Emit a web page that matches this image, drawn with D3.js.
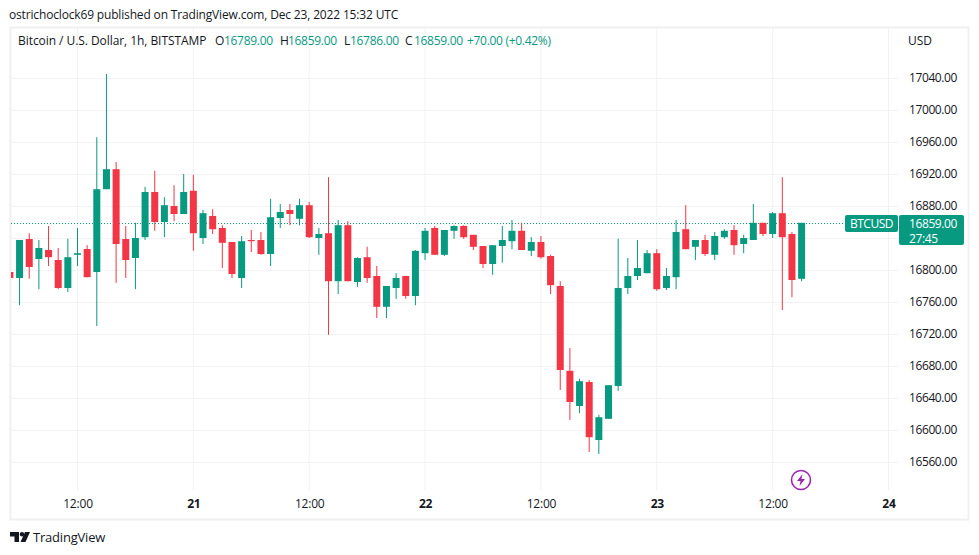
<!DOCTYPE html>
<html>
<head>
<meta charset="utf-8">
<script src="https://cdn.jsdelivr.net/npm/d3@7"></script>
<style>
  html, body { margin: 0; padding: 0; background: #fff; }
  svg { display: block; }
  text { font-family: "Open Sans", sans-serif; font-size: 12px; fill: #131722; }
  .domain { display: none; }
</style>
</head>
<body>
<div id="chart"></div>
<script>
// hourly candles, first one is Dec 20 05:00 UTC
const firstCandle = Date.UTC(2022, 11, 20, 5);
const opens = [16797.5,16790,16838.75,16813.75,16825,16812.5,16777.5,16819,16826.25,16797.5,16901,16926,16838.75,16815,16841,16897.5,16860,16880,16870,16899,16840,16867.5,16852.5,16835,16790,
  16837.5,16837.5,16820,16865,16875,16864,16881,16840,16846,16786,16856,16785,16816,16792.5,16754,16777.5,16792.5,16767.5,16821,16852.5,16819,16849,16855,16844,16830,
  16807.5,16830,16836,16849,16824,16835,16817.5,16780,16674,16630,16660,16587.5,16614,16655,16777.5,16792.5,16796,16821,16777.5,16791,16851,16829,16837.5,16819,16841,16850,16832.5,16837.5,16859,16845,16871,16845,16789];
const highs = [16797.5,16837.5,16846,16837.5,16855,16827.5,16839,16852.5,16831,16966,17045,16935,16855,16859,16904,16924,16891,16906,16920,16919,16875,16876,16856,16835,16842.5,
  16850,16847.5,16889,16882.5,16882.5,16889,16885,16852.5,16916,16862.5,16861,16816,16829,16805,16780,16796,16792.5,16825,16852.5,16855,16850,16856,16856,16844,16830,
  16831,16855,16862.5,16859,16841,16842.5,16819,16786,16702.5,16664,16662.5,16619,16656,16839,16815,16837.5,16825,16826,16802.5,16862.5,16881,16837.5,16844,16847.5,16851,16856,16844,16882.5,16859,16872.5,16916,16847.5,16859];
const lows = [16790,16756,16789,16776,16805,16776,16772.5,16805,16791,16730,16901,16784,16790,16776,16837.5,16849,16841,16861,16870,16824,16832.5,16845,16802.5,16790,16777.5,
  16822.5,16819,16805,16852.5,16856,16856,16840,16819,16719,16770,16786,16779,16784,16740,16740,16764,16764,16756,16812.5,16819,16817.5,16839,16839,16825,16802.5,
  16794,16809,16826,16825,16817.5,16814,16770,16650,16612.5,16621,16572.5,16570,16614,16649,16770,16787.5,16796,16774,16775,16776,16826,16812.5,16817.5,16812.5,16839,16819,16821,16837.5,16842.5,16840,16750,16766,16786];
const closes = [16790,16837.5,16803.75,16827.5,16816,16777.5,16816,16821,16791,16901,16926,16832.5,16812.5,16840,16897.5,16860,16881,16870,16897.5,16846,16871,16851,16834,16795,16836,
  16836,16820,16866,16872.5,16870,16881,16841,16845,16786,16856,16786,16815,16790,16754,16780,16790,16767.5,16824,16849,16819,16850,16855,16841,16829,16807.5,
  16831,16837.5,16849,16825,16835,16816,16781,16675,16635,16661,16591,16616,16656,16777.5,16792.5,16802.5,16821,16776,16792.5,16847.5,16826,16837.5,16820,16842.5,16849,16831,16840,16859,16845,16871,16841,16787.5,16859];

const priceTicks = [16560,16600,16640,16680,16720,16760,16800,16840,16880,16920,16960,17000,17040];
// 16840 label sits under the price badge, so it is not shown
const priceLabels = priceTicks.filter(d => d !== 16840);
const timeTicks = [Date.UTC(2022,11,20,12),Date.UTC(2022,11,21),Date.UTC(2022,11,21,12),Date.UTC(2022,11,22),Date.UTC(2022,11,22,12),Date.UTC(2022,11,23),Date.UTC(2022,11,23,12),Date.UTC(2022,11,24)];
const lastPrice = 16859;

const upColor = '#089981', downColor = '#f23645', gridColor = '#f0f2f5';
const numSpacing = '-0.4px';
const width = 979, height = 555;

const svg = d3.select('#chart').append('svg').attr('width', width).attr('height', height);

const x = d3.scaleUtc().domain([timeTicks[0], timeTicks[timeTicks.length - 1]]).range([77.5, 888.5]);
const y = d3.scaleLinear().domain([16560, 17040]).range([462, 78]);

// frame
svg.append('rect').attr('x', 10.5).attr('y', 27.5).attr('width', 958).attr('height', 492)
  .attr('fill', '#fff').attr('stroke', '#f0f0f0').attr('stroke-width', 2);

// grid
svg.append('g').selectAll('line').data(priceTicks).join('line')
  .attr('x1', 11).attr('x2', 898)
  .attr('y1', d => Math.round(y(d)) + 0.5).attr('y2', d => Math.round(y(d)) + 0.5)
  .attr('stroke', gridColor);
svg.append('g').selectAll('line').data(timeTicks).join('line')
  .attr('x1', d => x(d)).attr('x2', d => x(d))
  .attr('y1', 28).attr('y2', 490)
  .attr('stroke', gridColor);

// last price line
svg.append('line').attr('x1', 11).attr('x2', 845)
  .attr('y1', Math.round(y(lastPrice)) + 0.5).attr('y2', Math.round(y(lastPrice)) + 0.5)
  .attr('stroke', upColor).attr('stroke-dasharray', '1 2');

// candles
svg.append('clipPath').attr('id', 'pane').append('rect')
  .attr('x', 11).attr('y', 28).attr('width', 887).attr('height', 462);

const candles = svg.append('g').attr('clip-path', 'url(#pane)')
  .selectAll('g').data(opens).join('g')
  .attr('fill', (d, i) => closes[i] >= d ? upColor : downColor)
  .attr('stroke', (d, i) => closes[i] >= d ? upColor : downColor);

const candleX = i => x(firstCandle + i * 3600000);

candles.append('line')
  .attr('x1', (d, i) => candleX(i)).attr('x2', (d, i) => candleX(i))
  .attr('y1', (d, i) => y(highs[i])).attr('y2', (d, i) => y(lows[i]));

candles.append('rect')
  .attr('stroke', 'none')
  .attr('x', (d, i) => candleX(i) - 3.5)
  .attr('width', 7)
  .attr('y', (d, i) => y(Math.max(d, closes[i])))
  .attr('height', (d, i) => Math.max(1, Math.abs(y(d) - y(closes[i]))));

// axes
const priceAxis = svg.append('g').attr('transform', 'translate(900,0)')
  .call(d3.axisRight(y).tickValues(priceLabels).tickFormat(d3.format('.2f')).tickSize(0).tickPadding(9));
priceAxis.selectAll('text').style('font-size', '12px').style('font-family', '"Open Sans", sans-serif')
  .style('letter-spacing', numSpacing).attr('fill', '#131722');

const timeAxis = svg.append('g').attr('transform', 'translate(0,497)')
  .call(d3.axisBottom(x).tickValues(timeTicks)
    .tickFormat(d => new Date(d).getUTCHours() === 0 ? d3.utcFormat('%-d')(d) : d3.utcFormat('%H:%M')(d))
    .tickSize(0).tickPadding(2));
timeAxis.selectAll('text').style('font-size', '12px').style('font-family', '"Open Sans", sans-serif').attr('fill', '#131722')
  .style('letter-spacing', '-0.2px')
  .style('font-weight', d => new Date(d).getUTCHours() === 0 ? 700 : 400);

svg.append('text').attr('x', 908).attr('y', 45).text('USD');

// header
svg.append('text').attr('x', 9).attr('y', 19).style('letter-spacing', '-0.16px')
  .text('ostrichoclock69 published on TradingView.com, Dec 23, 2022 15:32 UTC');

const legendLabels = ['Bitcoin / U.S. Dollar, 1h, BITSTAMP', 'O', 'H', 'L', 'C'];
const legendLabelX = [18, 215, 280, 344, 405];
const legendValues = ['16789.00', '16859.00', '16786.00', '16859.00', '+70.00 (+0.42%)'];
const legendValueX = [224, 288, 350, 414, 467];

svg.append('g').selectAll('text').data(legendLabels).join('text')
  .attr('x', (d, i) => legendLabelX[i]).attr('y', 45).style('letter-spacing', '-0.06px').text(d => d);
svg.append('g').selectAll('text').data(legendValues).join('text')
  .attr('x', (d, i) => legendValueX[i]).attr('y', 45).style('fill', upColor).style('letter-spacing', '-0.3px').text(d => d);

// price badges
svg.append('rect').attr('x', 845).attr('y', 215).attr('width', 53).attr('height', 17).attr('rx', 2).attr('fill', upColor);
svg.append('text').attr('x', 850).attr('y', 228).style('fill', '#fff').style('letter-spacing', '-0.5px').text('BTCUSD');
svg.append('rect').attr('x', 899).attr('y', 215).attr('width', 65).attr('height', 30).attr('rx', 2).attr('fill', upColor);
svg.append('text').attr('x', 909).attr('y', 228).style('fill', '#fff').style('letter-spacing', numSpacing).text(d3.format('.2f')(lastPrice));
svg.append('text').attr('x', 909).attr('y', 242.5).style('fill', '#fff').style('letter-spacing', numSpacing).text('27:45');

// lightning icon
const icon = svg.append('g').attr('transform', 'translate(801,480)');
icon.append('circle').attr('r', 9.5).attr('fill', '#fff').attr('stroke', '#9c27b0').attr('stroke-width', 1.6);
icon.append('path').attr('d', 'M1.5,-6 L-4,1 L-0.5,1 L-1.5,6 L4,-1 L0.5,-1 Z').attr('fill', '#9c27b0');

// logo
const logo = svg.append('g').attr('transform', 'translate(10,532)').attr('fill', '#131722');
logo.append('path').attr('d', 'M0,0 H9 V10 H4.5 V4.5 H0 Z');
logo.append('circle').attr('cx', 12).attr('cy', 2.2).attr('r', 2.2);
logo.append('path').attr('d', 'M15,0 H20 L15.5,10 H10.5 Z');
svg.append('text').attr('x', 33).attr('y', 542).style('font-size', '13px').style('letter-spacing', '-0.2px').text('TradingView');
</script>
</body>
</html>
